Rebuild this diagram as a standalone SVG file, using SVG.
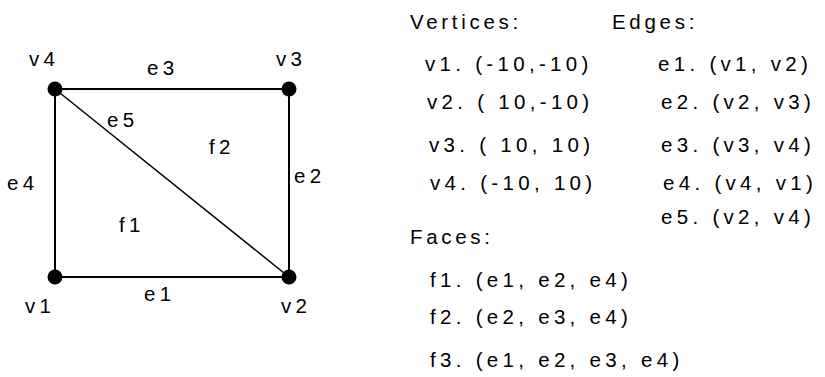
<svg xmlns="http://www.w3.org/2000/svg" width="825" height="377" viewBox="0 0 825 377">
<style>
text{font-family:"Liberation Sans",Arial,sans-serif;font-size:20.5px;fill:#000;letter-spacing:4.3px}
.h{letter-spacing:3.7px}
.e{stroke:#000;stroke-width:2;fill:none}
.d{stroke:#000;stroke-width:1.5;fill:none}
.v{fill:#000}
</style>
<rect width="825" height="377" fill="#fff"/>
<g id="connectors">
<line class="e" x1="55" y1="89" x2="289" y2="89"/>
<line class="e" x1="289" y1="89" x2="289" y2="277"/>
<line class="e" x1="55" y1="277" x2="289" y2="277"/>
<line class="e" x1="55" y1="89" x2="55" y2="277"/>
<line class="d" x1="55" y1="89" x2="289" y2="277"/>
</g>
<g id="v1"><circle class="v" cx="55" cy="277" r="7.5"/><text x="25" y="313">v1</text></g>
<g id="v2"><circle class="v" cx="289" cy="277" r="7.5"/><text x="281" y="313">v2</text></g>
<g id="v3"><circle class="v" cx="289" cy="89" r="7.5"/><text x="276" y="66">v3</text></g>
<g id="v4"><circle class="v" cx="55" cy="89" r="7.5"/><text x="29" y="66">v4</text></g>
<g id="labels">
<text x="147" y="75">e3</text>
<text x="107" y="127">e5</text>
<text x="209" y="154">f2</text>
<text x="7" y="190">e4</text>
<text x="294" y="183">e2</text>
<text x="119" y="232">f1</text>
<text x="144" y="301">e1</text>
</g>
<g id="lists">
<text class="h" x="410" y="29">Vertices:</text>
<text class="h" x="612" y="29">Edges:</text>
<text x="425" y="71">v1. (-10,-10)</text>
<text x="427" y="109">v2. ( 10,-10)</text>
<text x="429" y="152">v3. ( 10, 10)</text>
<text x="430" y="190">v4. (-10, 10)</text>
<text x="658" y="71">e1. (v1, v2)</text>
<text x="661" y="109">e2. (v2, v3)</text>
<text x="661" y="152">e3. (v3, v4)</text>
<text x="663" y="190">e4. (v4, v1)</text>
<text x="661" y="224">e5. (v2, v4)</text>
<text class="h" x="410" y="244">Faces:</text>
<text x="430" y="287">f1. (e1, e2, e4)</text>
<text x="430" y="324">f2. (e2, e3, e4)</text>
<text x="430" y="367">f3. (e1, e2, e3, e4)</text>
</g>
</svg>
